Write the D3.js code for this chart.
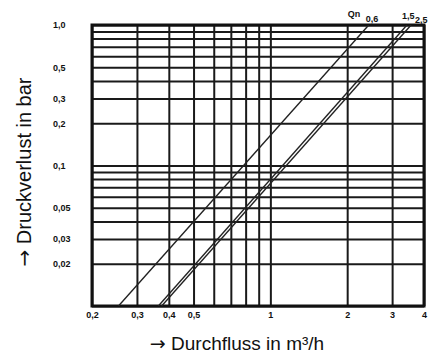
<!DOCTYPE html>
<html>
<head>
<meta charset="utf-8">
<script src="https://cdn.jsdelivr.net/npm/d3@7"></script>
<style>
body { margin: 0; background: #fff; }
text { font-family: "Liberation Sans", Arial, sans-serif; fill: #111; }
.tick-label { font-size: 9px; font-weight: bold; }
.title { font-size: 19px; }
.arrow { font-family: "DejaVu Sans", sans-serif; }
</style>
</head>
<body>
<div class="gv-chart"></div>
<script>
// flow (m3/h) grid lines and labels
var flowTicks = [0.2, 0.3, 0.4, 0.5, 0.6, 0.7, 0.8, 0.9, 1, 2, 3, 4];
var flowLabels = ["0,2", "0,3", "0,4", "0,5", "", "", "", "", "1", "2", "3", "4"];

// pressure loss (bar) grid lines and labels
var lossTicks = [1, 0.9, 0.8, 0.7, 0.6, 0.5, 0.4, 0.3, 0.2, 0.1, 0.09, 0.08, 0.07, 0.06, 0.05, 0.04, 0.03, 0.02, 0.01];
var lossLabels = ["1,0", "", "", "", "", "0,5", "", "0,3", "0,2", "0,1", "", "", "", "", "0,05", "", "0,03", "0,02", ""];

// meter sizes Qn: flow at 0.01 bar and at 1.0 bar
var meters = ["0,6", "1,5", "2,5"];
var flowAtLow = [0.254, 0.364, 0.375];
var flowAtHigh = [2.43, 3.43, 3.56];
var lossEnds = [0.01, 1];

var width = 440, height = 356;
var pLeft = 92, pRight = 424, pTop = 25, pBottom = 306;

var svg = d3.select(".gv-chart").append("svg")
    .attr("width", width).attr("height", height)
    .style("display", "block");

var x = d3.scaleLog().domain([0.2, 4]).range([pLeft, pRight]);
var y = d3.scaleLog().domain([0.01, 1]).range([pBottom, pTop]);

// vertical grid
var xAxis = svg.append("g")
    .attr("transform", "translate(0," + pBottom + ")")
    .call(d3.axisBottom(x).tickValues(flowTicks).tickSize(-(pBottom - pTop))
        .tickFormat((d, i) => flowLabels[i]).tickPadding(6));
xAxis.select(".domain").remove();
xAxis.selectAll("line").attr("stroke", "#1a1a1a").attr("stroke-width", 2);
xAxis.selectAll("text").attr("class", "tick-label").attr("font-size", null).attr("font-family", null);

// horizontal grid
var yAxis = svg.append("g")
    .attr("transform", "translate(" + pLeft + ",0)")
    .call(d3.axisLeft(y).tickValues(lossTicks).tickSize(-(pRight - pLeft))
        .tickFormat((d, i) => lossLabels[i]));
yAxis.select(".domain").remove();
yAxis.selectAll("line").attr("stroke", "#1a1a1a").attr("stroke-width", 2);
yAxis.selectAll("text").attr("class", "tick-label").attr("font-size", null).attr("font-family", null)
    .attr("text-anchor", "start").attr("x", 53 - pLeft);

// frame
svg.append("rect")
    .attr("x", pLeft).attr("y", pTop)
    .attr("width", pRight - pLeft).attr("height", pBottom - pTop)
    .attr("fill", "none").attr("stroke", "#111").attr("stroke-width", 3);

// loss curves
svg.append("clipPath").attr("id", "plot")
    .append("rect").attr("x", pLeft).attr("y", pTop).attr("width", pRight - pLeft).attr("height", pBottom - pTop);

var line = d3.line().x(d => x(d[0])).y(d => y(d[1]));
var curves = meters.map((m, i) => [[flowAtLow[i], lossEnds[0]], [flowAtHigh[i], lossEnds[1]]]);

svg.append("g").attr("clip-path", "url(#plot)")
    .selectAll("path").data(curves).enter().append("path")
    .attr("d", line)
    .attr("fill", "none").attr("stroke", "#222").attr("stroke-width", 1.4);

// curve labels
var labelShift = [[-3, -3], [-5, -6], [4, -2]];
svg.append("g").selectAll("text").data(meters).enter().append("text")
    .attr("class", "tick-label")
    .attr("x", (d, i) => x(flowAtHigh[i]) + labelShift[i][0])
    .attr("y", (d, i) => pTop + labelShift[i][1])
    .text(d => d);
svg.append("text").attr("class", "tick-label")
    .attr("x", x(flowAtHigh[0]) - 21).attr("y", pTop - 8)
    .text("Qn");

// axis titles
var xTitle = svg.append("text").attr("class", "title")
    .attr("x", 237).attr("y", 350).attr("text-anchor", "middle");
xTitle.append("tspan").attr("class", "arrow").text("\u2192");
xTitle.append("tspan").text(" Durchfluss in m\u00b3/h");

var yTitle = svg.append("text").attr("class", "title")
    .style("font-size", "20px")
    .attr("transform", "translate(31,172) rotate(-90)")
    .attr("text-anchor", "middle");
yTitle.append("tspan").attr("class", "arrow").text("\u2192");
yTitle.append("tspan").text(" Druckverlust in bar");
</script>
</body>
</html>
